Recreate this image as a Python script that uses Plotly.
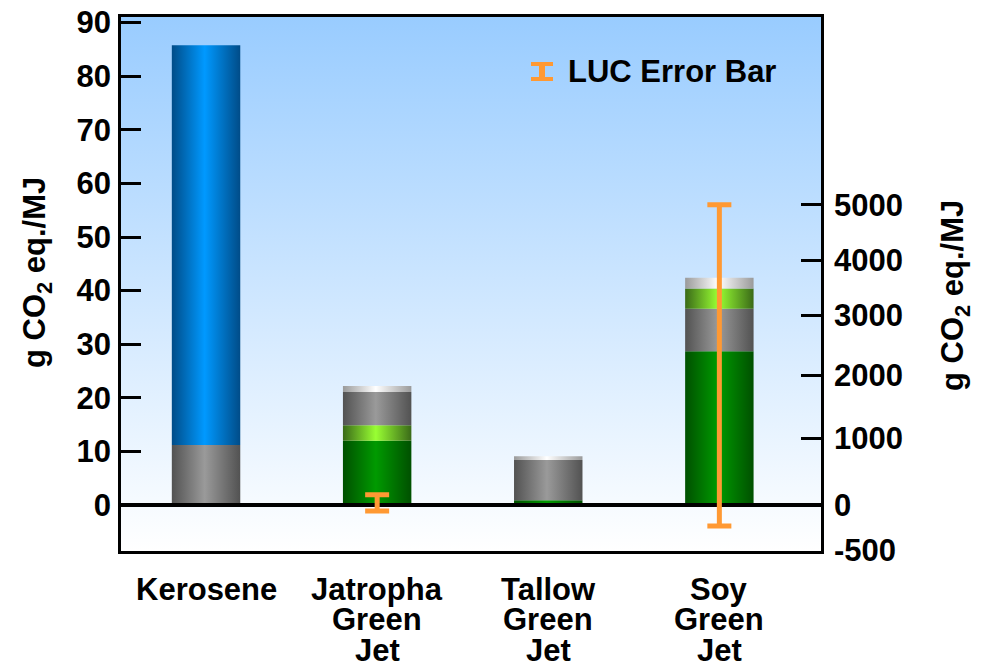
import plotly.graph_objects as go

# ---- data -------------------------------------------------------------
categories = ["Kerosene", "Jatropha Green Jet", "Tallow Green Jet", "Soy Green Jet"]

# emission components (g CO2 eq./MJ), stacked bottom -> top in stack_order
green_vals = [0.0, 12.0, 0.9, 28.7]
lime_vals = [0.0, 2.9, 0.0, 3.8]
gray_vals = [11.2, 6.2, 7.5, 7.9]
blue_vals = [74.6, 0.0, 0.0, 0.0]
cap_vals = [0.0, 1.1, 0.7, 2.0]

stack_order = [
    ["gray", "blue"],
    ["green", "lime", "gray", "cap"],
    ["green", "gray", "cap"],
    ["green", "gray", "lime", "cap"],
]

# land-use-change uncertainty range (g CO2 eq./MJ, left-axis units)
luc_low = [None, -1.1, None, -3.9]
luc_high = [None, 1.9, None, 56.0]

left_ticks = [0, 10, 20, 30, 40, 50, 60, 70, 80, 90]
right_tick_labels = ["5000", "4000", "3000", "2000", "1000", "0", "-500"]
right_tick_pos = [56.0, 45.7, 35.4, 24.25, 12.5, 0.0, -8.5]

# ---- styling ----------------------------------------------------------
series = {
    "green": green_vals,
    "lime": lime_vals,
    "gray": gray_vals,
    "blue": blue_vals,
    "cap": cap_vals,
}
shade = {
    "green": ("#005000", "#009A00"),
    "lime": ("#3A6A18", "#99FF33"),
    "gray": ("#525252", "#9A9A9A"),
    "blue": ("#004C88", "#0099FF"),
    "cap": ("#9A9A9A", "#FFFFFF"),
}
ORANGE = "#FF9933"
FONT = "Liberation Sans, Arial, Helvetica, sans-serif"

W, H = 986, 667
PLOT_L, PLOT_R, PLOT_T, PLOT_B = 121, 821, 17, 551
Y_RANGE = [-8.58, 91.05]
X_RANGE = [-0.497, 3.594]
BAR_W = 0.40


def px_x(px):
    return (px - PLOT_L) / (PLOT_R - PLOT_L)


def px_y(py):
    return (PLOT_B - py) / (PLOT_B - PLOT_T)


fig = go.Figure()

# plot-area background: vertical light-blue to white gradient
fig.add_trace(go.Scatter(
    x=[X_RANGE[0], X_RANGE[1], X_RANGE[1], X_RANGE[0], X_RANGE[0]],
    y=[Y_RANGE[0], Y_RANGE[0], Y_RANGE[1], Y_RANGE[1], Y_RANGE[0]],
    mode="lines", line=dict(width=0, color="rgba(0,0,0,0)"),
    fill="toself",
    fillgradient=dict(type="vertical",
                      colorscale=[[0, "#FFFFFF"], [1, "#99CCFF"]]),
    hoverinfo="skip", showlegend=False,
))

# stacked columns with a cylindrical horizontal shading
for i, order in enumerate(stack_order):
    base = 0.0
    for key in order:
        h = series[key][i]
        if h <= 0:
            continue
        x0, x1 = i - BAR_W / 2, i + BAR_W / 2
        edge, mid = shade[key]
        fig.add_trace(go.Scatter(
            x=[x0, x1, x1, x0, x0],
            y=[base, base, base + h, base + h, base],
            mode="lines", line=dict(width=0, color="rgba(0,0,0,0)"),
            fill="toself",
            fillgradient=dict(type="horizontal",
                              colorscale=[[0, edge], [0.48, mid], [1, edge]]),
            hoverinfo="skip", showlegend=False,
        ))
        base += h

# zero baseline
fig.add_trace(go.Scatter(
    x=X_RANGE, y=[0, 0], mode="lines",
    line=dict(color="black", width=4),
    hoverinfo="skip", showlegend=False,
))

# LUC error bars
for i, (lo, hi) in enumerate(zip(luc_low, luc_high)):
    if lo is None:
        continue
    fig.add_trace(go.Scatter(
        x=[i], y=[lo], mode="markers",
        marker=dict(size=1, color="rgba(0,0,0,0)"),
        error_y=dict(type="data", symmetric=False, array=[hi - lo],
                     arrayminus=[0], color=ORANGE, thickness=5, width=12),
        hoverinfo="skip", showlegend=False,
    ))

# right-hand scale (shares the plotting range of the left axis)
fig.add_trace(go.Scatter(x=[0], y=[0], yaxis="y2", mode="markers",
                         marker=dict(size=1, color="rgba(0,0,0,0)"),
                         hoverinfo="skip", showlegend=False))

tick_font = dict(family=FONT, size=31, color="black", weight="bold")

fig.update_layout(
    width=W, height=H,
    margin=dict(l=PLOT_L, r=W - PLOT_R, t=PLOT_T, b=H - PLOT_B, pad=0,
                autoexpand=False),
    paper_bgcolor="white", plot_bgcolor="white",
    font=dict(family=FONT, color="black"),
    xaxis=dict(range=X_RANGE, showgrid=False, zeroline=False,
               showticklabels=False, ticks="", automargin=False,
               showline=True, mirror=True, linecolor="black", linewidth=2.5,
               layer="above traces"),
    yaxis=dict(range=Y_RANGE, tickvals=left_ticks, showgrid=False,
               zeroline=False, ticks="inside", ticklen=20, tickwidth=3,
               tickcolor="black", tickfont=tick_font, ticklabelstandoff=1,
               ticklabeloverflow="allow", automargin=False,
               showline=True, mirror=True, linecolor="black", linewidth=2.5,
               layer="above traces"),
    yaxis2=dict(range=Y_RANGE, overlaying="y", side="right",
                tickvals=right_tick_pos, ticktext=right_tick_labels,
                showgrid=False, zeroline=False, ticks="inside", ticklen=20,
                tickwidth=3, tickcolor="black", tickfont=tick_font,
                ticklabelstandoff=12, ticklabeloverflow="allow",
                showline=False, automargin=False, layer="above traces"),
)

# category labels, one line per annotation for tight line spacing
line_centers = [589, 619.5, 650]
for i, name in enumerate(categories):
    words = name.split(" ")
    lines = [words[0]] if len(words) == 1 else [words[0], " ".join(words[1:-1]), words[-1]]
    for j, txt in enumerate(lines):
        fig.add_annotation(
            x=i, xref="x", y=0, yref="paper", yanchor="middle",
            yshift=-(line_centers[j] - PLOT_B), showarrow=False, borderpad=0,
            text=txt, font=dict(family=FONT, size=31, color="black", weight="bold"),
        )

# axis titles
title_txt = "g CO<sub>2</sub> eq./MJ"
title_font = dict(family=FONT, size=31, color="black", weight="bold")
fig.add_annotation(x=px_x(37), y=px_y(273), xref="paper", yref="paper",
                   text=title_txt, textangle=-90, showarrow=False,
                   xanchor="center", yanchor="middle", font=title_font)
fig.add_annotation(x=px_x(955), y=px_y(296), xref="paper", yref="paper",
                   text=title_txt, textangle=-90, showarrow=False,
                   xanchor="center", yanchor="middle", font=title_font)

# legend key: small orange error-bar glyph and its label
glyph = dict(color=ORANGE)
fig.add_shape(type="line", xref="paper", yref="paper",
              x0=px_x(531), x1=px_x(553), y0=px_y(64), y1=px_y(64),
              line=dict(width=4, **glyph))
fig.add_shape(type="line", xref="paper", yref="paper",
              x0=px_x(531), x1=px_x(553), y0=px_y(79), y1=px_y(79),
              line=dict(width=4, **glyph))
fig.add_shape(type="line", xref="paper", yref="paper",
              x0=px_x(542), x1=px_x(542), y0=px_y(64), y1=px_y(79),
              line=dict(width=6, **glyph))
fig.add_annotation(x=px_x(566), y=px_y(71), xref="paper", yref="paper",
                   text="LUC Error Bar", showarrow=False,
                   xanchor="left", yanchor="middle",
                   font=dict(family=FONT, size=31, color="black", weight="bold"))

fig.write_html("out.html")
